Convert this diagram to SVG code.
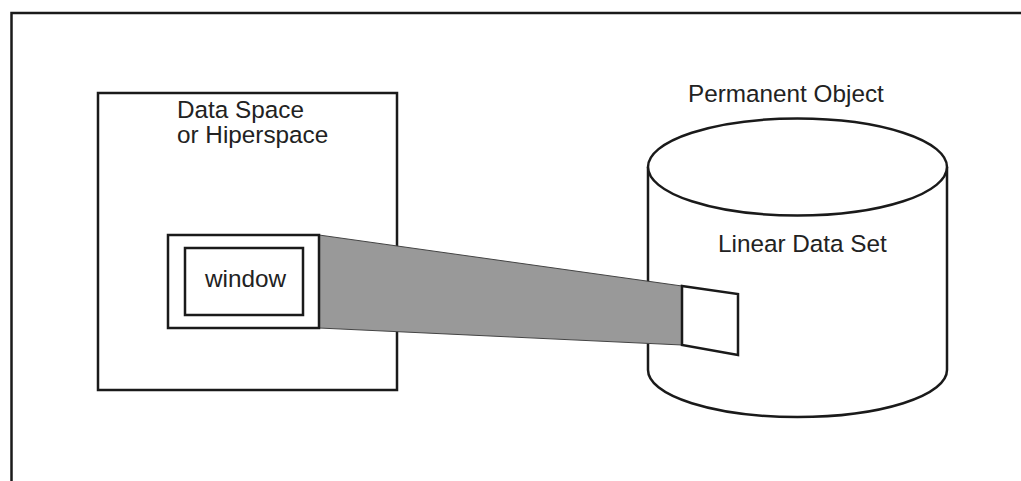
<svg xmlns="http://www.w3.org/2000/svg" width="1021" height="481" viewBox="0 0 1021 481">
<style>
.ln{fill:none;stroke:#1a1a1a;stroke-width:2.5}
.wf{fill:#fff;stroke:#1a1a1a;stroke-width:2.5}
.t{font-family:"Liberation Sans",Arial,sans-serif;font-size:24.3px;fill:#222}
</style>
<rect width="1021" height="481" fill="#fff"/>
<g id="frame"><path class="ln" d="M11.5,481 V13 H1021"/></g>
<g id="dataspace">
<rect class="wf" x="98" y="93" width="299" height="297"/>
<text class="t" x="177" y="118">Data Space</text>
<text class="t" x="177" y="143">or Hiperspace</text>
</g>
<g id="cylinder">
<path class="wf" d="M648,167 V370 A149.5,47 0 0 0 947,370 V167"/>
<ellipse class="wf" cx="797.5" cy="167" rx="149.5" ry="48.5"/>
<text class="t" x="688" y="102">Permanent Object</text>
<text class="t" x="718" y="252">Linear Data Set</text>
</g>
<g id="connectors">
<polygon points="319,235 682,286 682,345 319,328" fill="#999" stroke="#444" stroke-width="1"/>
</g>
<g id="window">
<rect class="wf" x="168" y="235" width="151" height="93"/>
<rect class="wf" x="185" y="248" width="118" height="67"/>
<text class="t" x="205" y="287">window</text>
</g>
<g id="segment">
<polygon class="wf" points="682,286 738,294 738,355 682,345"/>
</g>
</svg>
